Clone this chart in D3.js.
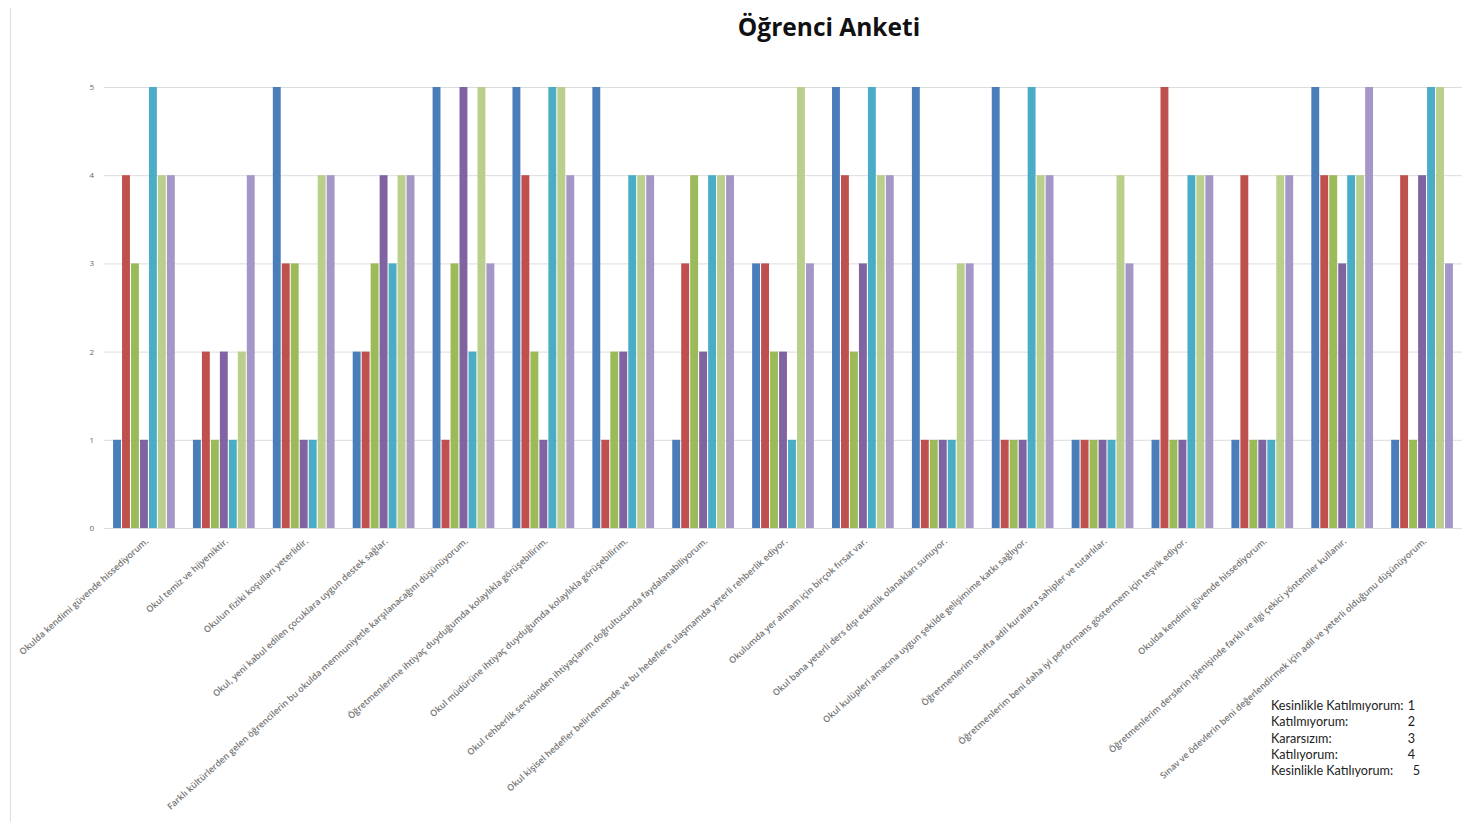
<!DOCTYPE html>
<html>
<head>
<meta charset="utf-8">
<script src="https://cdn.jsdelivr.net/npm/d3@7"></script>
<style>
  body { margin: 0; background: #fff; }
  svg { display: block; }
</style>
</head>
<body>
<script>
// survey statements (x axis)
var categories = [
  "Okulda kendimi güvende hissediyorum.",
  "Okul temiz ve hijyeniktir.",
  "Okulun fiziki koşulları yeterlidir.",
  "Okul, yeni kabul edilen çocuklara uygun destek sağlar.",
  "Farklı kültürlerden gelen öğrencilerin bu okulda memnuniyetle karşılanacağını düşünüyorum.",
  "Öğretmenlerime ihtiyaç duyduğumda kolaylıkla görüşebilirim.",
  "Okul müdürüne ihtiyaç duyduğumda kolaylıkla görüşebilirim.",
  "Okul rehberlik servisinden ihtiyaçlarım doğrultusunda faydalanabiliyorum.",
  "Okul kişisel hedefler belirlememde ve bu hedeflere ulaşmamda yeterli rehberlik ediyor.",
  "Okulumda yer almam için birçok fırsat var.",
  "Okul bana yeterli ders dışı etkinlik olanakları sunuyor.",
  "Okul kulüpleri amacına uygun şekilde gelişimime katkı sağlıyor.",
  "Öğretmenlerim sınıfta adil kurallara sahipler ve tutarlılar.",
  "Öğretmenlerim beni daha iyi performans göstermem için teşvik ediyor.",
  "Okulda kendimi güvende hissediyorum.",
  "Öğretmenlerim derslerin işlenişinde farklı ve ilgi çekici yöntemler kullanır.",
  "Sınav ve ödevlerin beni değerlendirmek için adil ve yeterli olduğunu düşünüyorum."
];

// one array per respondent, one value per statement
var s1 = [1, 1, 5, 2, 5, 5, 5, 1, 3, 5, 5, 5, 1, 1, 1, 5, 1];
var s2 = [4, 2, 3, 2, 1, 4, 1, 3, 3, 4, 1, 1, 1, 5, 4, 4, 4];
var s3 = [3, 1, 3, 3, 3, 2, 2, 4, 2, 2, 1, 1, 1, 1, 1, 4, 1];
var s4 = [1, 2, 1, 4, 5, 1, 2, 2, 2, 3, 1, 1, 1, 1, 1, 3, 4];
var s5 = [5, 1, 1, 3, 2, 5, 4, 4, 1, 5, 1, 5, 1, 4, 1, 4, 5];
var s6 = [4, 2, 4, 4, 5, 5, 4, 4, 5, 4, 3, 4, 4, 4, 4, 4, 5];
var s7 = [4, 4, 4, 4, 3, 4, 4, 4, 3, 4, 3, 4, 3, 4, 4, 5, 3];

var seriesNames = ["Öğrenci 1", "Öğrenci 2", "Öğrenci 3", "Öğrenci 4", "Öğrenci 5", "Öğrenci 6", "Öğrenci 7"];
var seriesValues = [s1, s2, s3, s4, s5, s6, s7];
var seriesColors = ["#4a7ebb", "#c0504d", "#9bbb59", "#8064a2", "#4bacc6", "#b9cf8b", "#a596c8"];

var yTicks = [0, 1, 2, 3, 4, 5];

var legendLabels = ["Kesinlikle Katılmıyorum:", "Katılmıyorum:", "Kararsızım:", "Katılıyorum:", "Kesinlikle Katılıyorum:"];
var legendValues = ["1", "2", "3", "4", "5"];

var width = 1477, height = 825;
var margin = { top: 87, right: 15, bottom: 297, left: 104 };

var svg = d3.select('body').append('svg')
    .attr('width', width)
    .attr('height', height);

// faint frame line on the left
svg.append('line')
    .attr('x1', 10.5).attr('x2', 10.5)
    .attr('y1', 8).attr('y2', 822)
    .attr('stroke', '#dedede');

svg.append('text')
    .attr('x', 829)
    .attr('y', 36)
    .attr('text-anchor', 'middle')
    .attr('font-family', 'Open Sans, sans-serif')
    .attr('font-weight', 'bold')
    .attr('font-size', 24.5)
    .attr('fill', '#111')
    .text('Öğrenci Anketi');

var x0 = d3.scaleBand()
    .domain(d3.range(categories.length))
    .range([margin.left, width - margin.right])
    .paddingInner(0.2)
    .paddingOuter(0.1);

var x1 = d3.scaleBand()
    .domain(d3.range(seriesNames.length))
    .range([0, x0.bandwidth()])
    .padding(0.12);

var y = d3.scaleLinear()
    .domain([0, 5])
    .range([height - margin.bottom, margin.top]);

// gridlines + y labels
var yAxis = d3.axisLeft(y)
    .tickValues(yTicks)
    .tickSize(-(width - margin.left - margin.right))
    .tickPadding(10)
    .tickFormat(d3.format('d'));

var gy = svg.append('g')
    .attr('transform', 'translate(' + margin.left + ',0)')
    .call(yAxis);
gy.select('.domain').remove();
gy.selectAll('.tick line').attr('stroke', '#dcdcdc');
gy.selectAll('.tick text')
    .attr('font-family', 'Open Sans, sans-serif')
    .attr('font-size', 8)
    .attr('fill', '#666');

// bars
var groups = svg.append('g').selectAll('g')
    .data(categories)
    .enter()
    .append('g')
    .attr('transform', function(d, i) { return 'translate(' + x0(i) + ',0)'; });

groups.selectAll('rect')
    .data(function(d, i) {
        return seriesValues.map(function(vals, k) { return { k: k, v: vals[i] }; });
    })
    .enter()
    .append('rect')
    .attr('x', function(d) { return x1(d.k); })
    .attr('width', x1.bandwidth())
    .attr('y', function(d) { return y(d.v); })
    .attr('height', function(d) { return y(0) - y(d.v); })
    .attr('fill', function(d) { return seriesColors[d.k]; });

// x labels, rotated
var xAxis = d3.axisBottom(x0)
    .tickSize(0)
    .tickPadding(0)
    .tickFormat(function(i) { return categories[i]; });

var gx = svg.append('g')
    .attr('transform', 'translate(0,' + (height - margin.bottom) + ')')
    .call(xAxis);
gx.select('.domain').remove();
gx.selectAll('.tick text')
    .attr('font-family', 'Open Sans, sans-serif')
    .attr('font-size', 8.9)
    .attr('font-weight', 600)
    .attr('fill', '#777')
    .attr('text-anchor', 'end')
    .attr('dy', 0)
    .attr('transform', 'translate(5,14) rotate(-42)');

// value legend
var legend = svg.append('g')
    .attr('font-family', 'Lato, sans-serif')
    .attr('font-size', 12.6)
    .attr('fill', '#222');

legend.selectAll('text.lab')
    .data(legendLabels)
    .enter()
    .append('text')
    .attr('class', 'lab')
    .attr('x', 1271)
    .attr('y', function(d, i) { return 710 + i * 16.3; })
    .text(function(d) { return d; });

legend.selectAll('text.val')
    .data(legendValues)
    .enter()
    .append('text')
    .attr('class', 'val')
    .attr('x', function(d, i) { return i === 4 ? 1420 : 1415; })
    .attr('y', function(d, i) { return 710 + i * 16.3; })
    .attr('text-anchor', 'end')
    .text(function(d) { return d; });
</script>
</body>
</html>
